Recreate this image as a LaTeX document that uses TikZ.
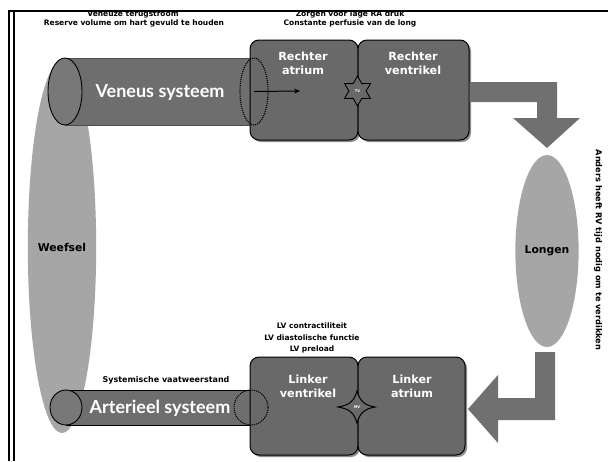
\documentclass[tikz,border=0pt]{standalone}
\usepackage{fontspec}
\setmainfont{Lato}
\newfontfamily\widefont{DejaVu Sans}
\usetikzlibrary{shapes.geometric,shadows,arrows.meta}
\definecolor{boxgray}{gray}{0.41}
\definecolor{bandgray}{gray}{0.43}
\definecolor{capgray}{gray}{0.47}
\definecolor{arrowgray}{gray}{0.44}
\definecolor{lightgray2}{gray}{0.65}
\begin{document}
\begin{tikzpicture}[x=1pt,y=-1pt,
  heartbox/.style={draw=black, line width=1pt, fill=boxgray, rounded corners=9pt,
    minimum width=#1, minimum height=100pt, inner sep=0pt,
    drop shadow={shadow xshift=2pt,shadow yshift=-2pt,opacity=0.45,fill=black}},
  blob/.style={ellipse, fill=lightgray2, inner sep=0pt, font=\widefont\fontsize{10.8}{12}\selectfont\bfseries},
  endcap/.style={ellipse, draw=black, line width=0.9pt, fill=capgray, inner sep=0pt},
  dotcap/.style={ellipse, draw=black, line width=1.1pt, densely dotted, inner sep=0pt},
  notetext/.style={font=\widefont\fontsize{7.5}{9}\selectfont\bfseries, align=center, inner sep=0pt},
  boxtext/.style={font=\widefont\fontsize{11.2}{13.5}\selectfont\bfseries, text=white, align=center, inner sep=0pt},
  bigtext/.style={font=\fontsize{18}{20}\selectfont\bfseries, text=white, inner sep=0pt},
  valvetext/.style={font=\widefont\fontsize{3.6}{4}\selectfont\bfseries, text=white, inner sep=0pt},
  fatarrow/.style={fill=arrowgray, draw=none}]
\useasboundingbox (0,0) rectangle (608,461);
\fill[white] (0,0) rectangle (608,461);

% tissue ellipse
\node[blob, minimum width=68pt, minimum height=372pt] (weefsel) at (62,247) {Weefsel};

% venous band
\fill[bandgray] (65,58) rectangle (256,125);
\draw[black!70, line width=0.5pt] (65,58) -- (256,58) (65,125) -- (256,125);
\node[endcap, minimum width=34pt, minimum height=67pt] (vcap) at (65,91.5) {};
\node[bigtext] (veneus) at (160,92) {Veneus systeem};

% arterial band
\fill[bandgray] (66,390) rectangle (252,425);
\draw[black, line width=0.9pt] (66,390) -- (252,390) (66,425) -- (252,425);
\node[endcap, minimum width=32pt, minimum height=35pt] (acap) at (66,407.5) {};
\node[bigtext] (arterieel) at (160,408) {Arterieel systeem};

% heart boxes
\node[heartbox=108pt] (ra) at (304,90) {};
\node[heartbox=111pt] (rv) at (413.5,90) {};
\node[heartbox=108pt, minimum height=98pt] (lv) at (304,406) {};
\node[heartbox=107pt, minimum height=98pt] (la) at (411.5,406) {};

\node[boxtext] (ratext) at (303,63.5) {Rechter\\atrium};
\node[boxtext] (rvtext) at (413,63.5) {Rechter\\ventrikel};
\node[boxtext] (lvtext) at (308,386.5) {Linker\\ventrikel};
\node[boxtext] (latext) at (412,386.5) {Linker\\atrium};

% dotted caps
\node[dotcap, minimum width=28pt, minimum height=67pt] (vdot) at (254,91.5) {};
\node[dotcap, minimum width=34pt, minimum height=35pt] (adot) at (251,407.5) {};

% flow arrow in venous band
\coordinate (vend) at (300,91);
\draw[black, line width=1pt, -{Stealth[length=6pt,width=5pt]}] (vdot.center) -- (vend);

% valves
\node[star, star points=6, star point ratio=1.75, draw=black, line width=0.9pt, fill=boxgray,
  minimum size=30pt, inner sep=0pt] (tv) at (357.5,91) {};
\node[valvetext] (tvtext) at (357.5,91) {TV};
\path[draw=black, line width=1pt, fill=boxgray]
  (338,407) .. controls (350,405) and (354,401) .. (357,391)
  .. controls (360,401) and (364,405) .. (375,407)
  .. controls (364,409) and (360,413) .. (357,423)
  .. controls (354,413) and (350,409) .. (338,407) -- cycle;
\node[valvetext] (mvtext) at (357,407) {MV};

% lungs
\node[blob, minimum width=58pt, minimum height=192pt] (longen) at (547,251) {Longen};

% fat arrows
\fill[fatarrow] (rv.east |- 0,82) -- (557,82) -- (557,118) -- (580,118) -- (547,148) -- (513,118)
  -- (537,118) -- (537,102) -- (rv.east |- 0,102) -- cycle;
\fill[fatarrow] (555,352) -- (555,420) -- (498,420) -- (498,443) -- (468,409) -- (498,375)
  -- (498,398) -- (535,398) -- (535,352) -- cycle;

% notes
\node[notetext, anchor=base] (n1) at (133,16) {Veneuze terugstroom};
\node[notetext, anchor=base] (n2) at (134,25.5) {Reserve volume om hart gevuld te houden};
\node[notetext, anchor=base] (n3) at (350,16) {Zorgen voor lage RA druk};
\node[notetext, anchor=base] (n4) at (350,25.5) {Constante perfusie van de long};
\node[notetext, anchor=base] (n5) at (312,328) {LV contractiliteit};
\node[notetext, anchor=base] (n6) at (312,340) {LV diastolische functie};
\node[notetext, anchor=base] (n7) at (312,351) {LV preload};
\node[notetext, anchor=base, font=\widefont\fontsize{8}{9}\selectfont\bfseries] (n8) at (166,382) {Systemische vaatweerstand};
\node[notetext, rotate=-90, font=\widefont\fontsize{8.2}{9}\selectfont\bfseries] (n9) at (598,250) {Anders heeft RV tijd nodig om te verdikken};

% frame
\fill[white] (0,0) rectangle (608,10);
\draw[black, line width=2pt] (8,11) -- (608,11);
\draw[black, line width=1.6pt] (9.2,10) -- (9.2,461);
\draw[black, line width=1.6pt] (13.8,12) -- (13.8,461);
\end{tikzpicture}
\end{document}
